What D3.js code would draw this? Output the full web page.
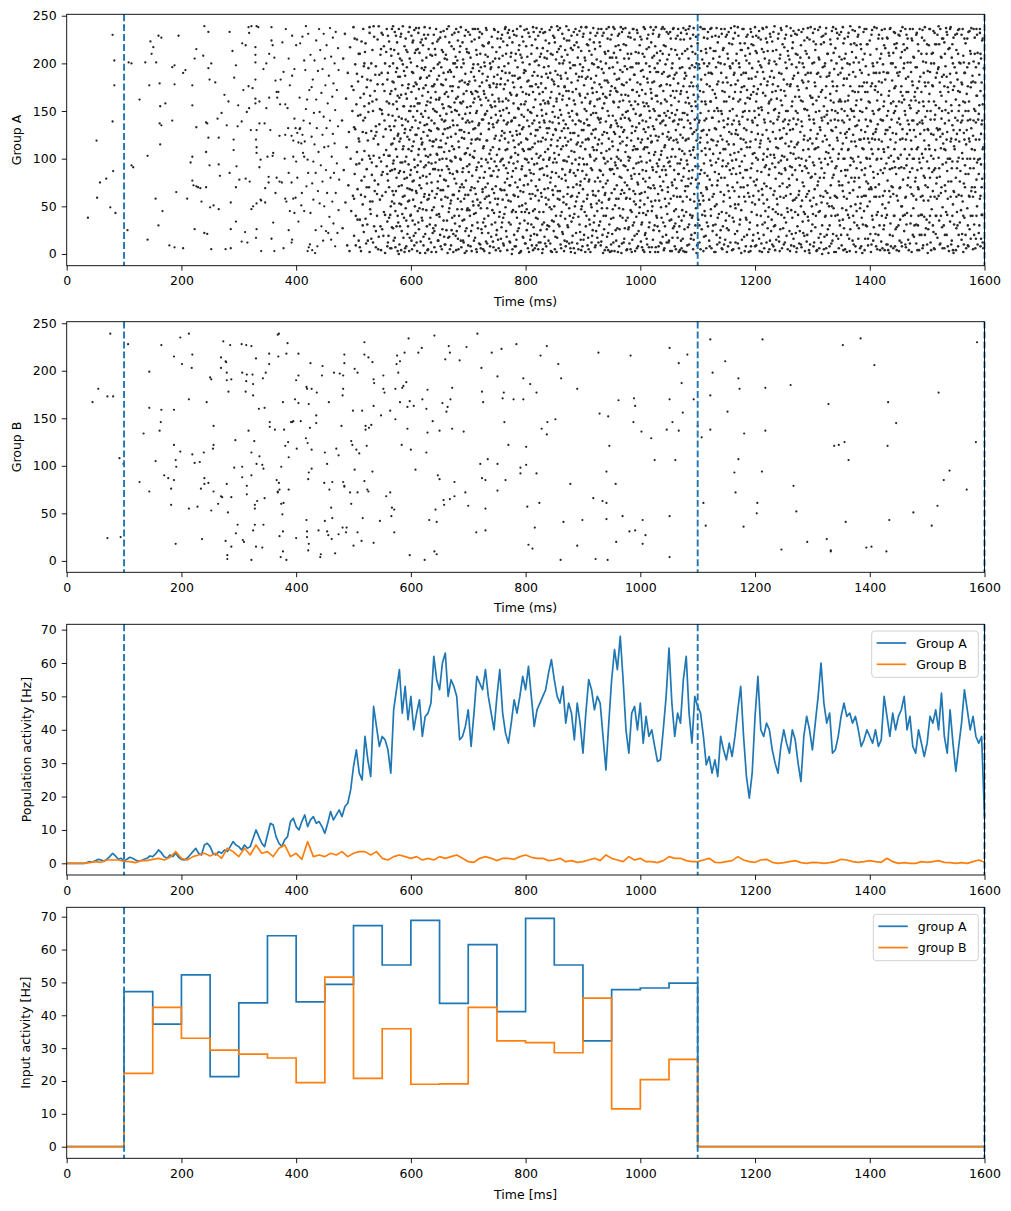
<!DOCTYPE html>
<html lang="en">
<head>
<meta charset="utf-8">
<title>Group A / Group B activity</title>
<script src="https://cdn.jsdelivr.net/npm/d3@7"></script>
<style>
  body { margin: 0; background: #fff; }
  text { font-family: "DejaVu Sans", sans-serif; }
</style>
</head>
<body>
<script>
// ---- data ----
// spike rasters, flat lists of [time (ms), neuron index] pairs
var spikesA_early = [37,38, 52,119, 53,59, 58,75, 69,79, 76,49, 80,230, 83,203, 83,177, 80,139, 81,87, 85,43, 100,239, 106,25, 108,201, 113,200, 113,93, 116,91, 127,162, 137,201, 141,103, 141,15, 144,177, 146,223, 148,210, 151,217, 155,58, 156,201, 160,229, 160,30, 162,179, 163,155, 165,227, 162,137, 165,135, 163,115, 167,45, 172,158, 179,9, 184,140, 184,196, 188,198, 188,7, 188,178, 191,65, 195,229, 203,6, 203,190, 207,193, 210,58, 216,96, 219,177, 219,156, 219,102, 219,77, 221,72, 223,26, 223,205, 226,215, 226,133, 226,71, 229,70, 233,69, 235,55, 238,208, 240,239, 240,22, 245,21, 243,138, 243,107, 243,70, 245,137, 247,233, 247,195, 247,122, 249,93, 249,183, 250,49, 252,5, 252,200, 256,51, 259,180, 263,142, 265,122, 265,94, 265,47, 267,82, 270,148, 275,167, 277,5, 279,135, 282,160, 284,233, 284,85, 286,54, 286,26, 286,6, 289,213, 291,120, 291,109, 292,185, 295,198, 295,70, 295,34, 296,92, 298,134, 299,156, 301,78, 305,139, 305,13, 306,221, 308,172, 311,23, 312,79, 312,219, 314,149, 315,12, 317,238, 317,176, 318,232, 318,153, 319,76, 321,130, 322,239, 322,47, 324,174, 325,50, 329,217, 329,209, 329,201, 329,183, 329,163, 329,158, 330,120, 331,130, 331,112, 331,106, 331,53, 331,26, 330,17, 331,239, 334,238, 336,160, 336,137, 336,91, 338,99, 338,57, 339,56, 339,3, 343,194, 345,137, 346,69, 346,54, 348,200, 348,153, 350,102, 352,81, 352,75, 353,210, 353,164, 355,130, 357,16, 357,238, 357,224, 359,219, 359,103, 360,106, 360,33, 362,3, 362,206, 364,182, 364,64, 366,170, 366,80, 367,164, 369,170, 371,124, 371,76, 372,157, 373,183, 375,75, 376,222, 378,6, 378,191, 380,100, 381,157, 381,125, 381,58, 382,236, 383,55, 385,153, 386,132, 387,205, 387,85, 387,25, 389,177, 389,45, 392,124, 392,75, 392,12, 393,187, 393,229, 393,15, 395,119, 395,102, 397,142, 395,58, 397,194, 397,43, 399,132, 399,59, 400,219, 400,97, 402,127, 402,80, 404,117, 404,34, 406,131, 406,164, 407,221, 407,132, 409,116, 409,51, 410,64, 411,125, 411,228, 412,106, 413,140, 414,102, 414,45, 414,203, 415,118, 416,193, 417,152, 417,239, 418,71, 419,162, 420,99, 420,3, 421,231, 421,85, 422,7, 423,172, 424,137, 424,10, 425,43, 425,209, 427,123, 427,175, 428,74, 428,4, 429,183, 430,97, 430,57, 431,148, 432,203, 432,115, 433,1, 434,85, 434,25, 435,224, 435,162, 436,132, 437,8, 438,192, 438,66, 439,107, 440,236, 441,149, 441,53, 442,214, 443,93, 444,29, 444,169, 446,125, 446,194, 446,76, 447,14, 448,144, 448,231, 449,50, 449,112, 450,205, 451,177, 452,24, 452,88, 453,132, 453,219, 454,64, 455,158, 456,22, 456,113, 457,187, 458,39, 459,237, 459,140, 460,80, 461,207, 461,15, 462,102, 463,165, 463,55, 464,126, 464,227, 465,32, 465,179, 466,85, 467,116, 467,200, 468,8, 468,151, 469,64, 469,233, 471,95, 471,172, 472,22, 473,216, 473,134, 474,46, 474,193, 475,78];

var spikesA_mid = [
480,140, 481,27, 482,205, 483,88, 485,231, 486,54, 487,163, 488,112, 489,9,
490,190, 491,72, 492,128, 493,3, 494,217, 495,100, 496,45, 497,176, 498,150, 499,61,
500,238, 501,19, 501,133, 502,84, 503,199, 504,40, 505,157, 506,107, 506,225, 507,68, 508,181, 509,14, 509,121,
510,95, 511,210, 511,36, 512,146, 513,3, 514,77, 515,186, 516,128, 516,52, 517,236, 518,168, 518,23, 519,108, 519,200,
520,60, 520,143, 521,221, 522,11, 523,89, 523,175, 524,31, 525,119, 526,195, 527,70, 527,158, 528,2, 528,232, 529,100, 529,47,
530,182, 531,129, 531,16, 532,83, 533,214, 533,55, 534,150, 535,239, 535,103, 536,29, 537,171, 537,66, 538,124, 539,197, 539,7,
540,92, 540,162, 541,40, 542,225, 543,115, 543,73, 544,18, 545,188, 545,136, 546,57, 547,209, 548,4, 548,97, 549,151, 549,232,
550,26, 551,178, 551,86, 552,123, 553,218, 553,44, 554,140, 555,1, 555,200, 556,65, 557,109, 558,160, 558,236, 559,34, 559,84,
560,190, 560,12, 561,146, 562,70, 562,223, 563,103, 564,41, 564,168, 565,130, 566,6, 566,208, 567,88, 567,55, 568,181, 568,116, 569,27, 569,239, 569,157,
570,98, 570,62, 571,214, 571,134, 572,17, 573,173, 573,45, 574,229, 574,110, 575,80, 576,195, 576,152, 577,3, 577,124, 578,33, 578,186, 579,71, 579,236, 579,144,
580,10, 580,164, 581,87, 581,205, 582,121, 583,52, 583,231, 584,142, 584,24, 585,177, 585,96, 586,60, 586,199, 587,113, 588,38, 588,155, 589,218, 589,2, 589,79,
590,131, 590,187, 591,48, 591,226, 592,8, 592,102, 593,163, 594,69, 594,212, 595,139, 595,29, 596,94, 596,178, 597,120, 597,56, 598,238, 598,17, 599,150, 599,83,
600,201, 600,41, 601,108, 601,170, 602,5, 602,133, 603,222, 603,76, 604,190, 604,57, 605,118, 605,19, 606,155, 606,235, 607,91, 607,31, 608,180, 608,140, 609,66, 609,214,
610,125, 610,12, 611,86, 611,197, 612,45, 612,158, 613,232, 613,104, 614,26, 614,173, 615,72, 615,211, 616,138, 616,1, 617,97, 617,185, 618,54, 618,147, 619,225, 619,115,
620,35, 620,166, 621,82, 621,219, 622,128, 622,9, 623,193, 623,60, 624,110, 624,238, 625,150, 625,21, 626,177, 626,93, 627,46, 627,206, 628,136, 628,74, 629,4, 629,160,
630,102, 630,230, 631,58, 631,143, 632,16, 632,187, 633,119, 633,84, 634,209, 634,38, 635,164, 635,129, 636,2, 636,95, 637,176, 637,66, 638,221, 638,113, 639,27, 639,152,
640,195, 640,49, 641,137, 641,7, 642,89, 642,215, 643,170, 643,30, 644,120, 644,236, 645,63, 645,149, 646,104, 646,183, 647,14, 647,76, 648,225, 648,131, 649,42, 649,162,
650,99, 650,201, 651,20, 651,145, 652,67, 652,233, 653,178, 653,112, 654,5, 654,88, 655,157, 655,50, 656,212, 656,126, 657,35, 657,190, 658,78, 658,139, 659,10, 659,168,
660,228, 660,60, 661,116, 661,183, 662,25, 662,147, 663,92, 663,204, 664,1, 664,132, 665,71, 665,165, 666,44, 666,239, 667,108, 667,18, 668,193, 668,85, 669,154, 669,53,
670,123, 670,9, 671,218, 671,97, 672,38, 672,171, 673,140, 673,62, 674,200, 674,21, 675,110, 675,186, 676,79, 676,232, 677,151, 677,32, 678,101, 678,207, 679,4, 679,163,
680,87, 680,196, 681,47, 681,135, 682,224, 682,16, 683,118, 683,175, 684,66, 684,146, 685,29, 685,212, 686,100, 686,159, 687,55, 687,238, 688,130, 688,7, 689,182, 689,73,
690,142, 690,35, 691,204, 691,90, 692,12, 692,168, 693,121, 693,58, 694,229, 694,105, 695,24, 695,189, 696,138, 696,77, 697,215, 697,3, 698,154, 698,46, 699,111, 699,178,
700,62, 700,233, 701,127, 701,19, 702,181, 702,94, 703,40, 703,148, 704,206, 704,8, 705,116, 705,170, 706,70, 706,223, 707,139, 707,30, 708,102, 708,195, 709,51, 709,159,
710,14, 710,186, 711,108, 711,69, 712,236, 712,132, 713,43, 713,171, 714,88, 714,214, 715,2, 715,150, 716,121, 716,57, 717,199, 717,27, 718,96, 718,165, 719,227, 719,137,
720,80, 720,176, 721,10, 721,210, 722,126, 722,48, 723,156, 723,100, 724,231, 724,22, 725,189, 725,65, 726,141, 726,5, 727,113, 727,218, 728,37, 728,168, 729,86, 729,197,
730,147, 730,29, 731,237, 731,99, 732,60, 732,182, 733,119, 733,11, 734,207, 734,74, 735,161, 735,40, 736,131, 736,222, 737,90, 737,1, 738,175, 738,54, 739,109, 739,194,
740,18, 740,143, 741,228, 741,82, 742,167, 742,46, 743,112, 743,202, 744,7, 744,133, 745,64, 745,186, 746,97, 746,235, 747,33, 747,155, 748,124, 748,71, 749,212, 749,20,
750,178, 750,104, 751,52, 751,226, 752,140, 752,15, 753,88, 753,196, 754,160, 754,39, 755,119, 755,217, 756,68, 756,3, 757,145, 757,184, 758,28, 758,99, 759,230, 759,129,
760,57, 760,208, 761,11, 761,151, 762,93, 762,173, 763,127, 763,42, 764,236, 764,75, 765,190, 765,109, 766,24, 766,163, 767,136, 767,62, 768,219, 768,4, 769,85, 769,182,
770,117, 770,200, 771,33, 771,148, 772,72, 772,227, 773,169, 773,12, 774,101, 774,55, 775,211, 775,139, 776,0, 776,81, 777,187, 777,124, 778,46, 778,234, 779,158, 779,95,
780,20, 780,175, 781,112, 781,61, 782,203, 782,143, 783,8, 783,90, 784,229, 784,166, 785,38, 785,125, 786,196, 786,70, 787,153, 787,104, 788,27, 788,214, 789,135, 789,50,
790,185, 790,78, 791,239, 791,2, 792,117, 792,157, 793,44, 793,206, 794,92, 794,131, 795,18, 795,170, 796,223, 796,65, 797,144, 797,108, 798,35, 798,193, 799,82, 799,11,
800,160, 800,53, 801,218, 801,121, 802,25, 802,99, 803,181, 803,140, 804,6, 804,73, 805,232, 805,110, 806,43, 806,167, 807,199, 807,88, 808,15, 808,149, 809,126, 809,58,
810,210, 810,31, 811,100, 811,176, 812,63, 812,137, 813,238, 813,4, 814,154, 814,84, 815,21, 815,191, 816,116, 816,47, 817,225, 817,162, 818,71, 818,130, 819,9, 819,203,
820,95, 820,145, 821,37, 821,187, 822,118, 822,229, 823,56, 823,12, 824,168, 824,78, 825,207, 825,133, 826,25, 826,103, 827,179, 827,64, 828,236, 828,151, 829,1, 829,90,
830,122, 830,216, 831,44, 831,161, 832,83, 832,196, 833,18, 833,138, 834,107, 834,233, 835,59, 835,174, 836,8, 836,147, 837,92, 837,205, 838,30, 838,127, 839,185, 839,69,
840,14, 840,158, 841,221, 841,99, 842,49, 842,139, 843,190, 843,75, 844,3, 844,114, 845,238, 845,170, 846,35, 846,86, 847,149, 847,209, 848,62, 848,125, 849,24, 849,181,
850,106, 850,227, 851,5, 851,144, 852,71, 852,192, 853,130, 853,40, 854,163, 854,96, 855,212, 855,17, 856,119, 856,58, 857,176, 857,235, 858,81, 858,137, 859,29, 859,200,
860,151, 860,66, 861,10, 861,218, 862,110, 862,184, 863,44, 863,129, 864,231, 864,89, 865,21, 865,166, 866,140, 866,54, 867,203, 867,3, 868,98, 868,175, 869,122, 869,37,
870,190, 870,77, 871,239, 871,114, 872,13, 872,156, 873,63, 873,209, 874,132, 874,28, 875,102, 875,171, 876,48, 876,224, 877,144, 877,86, 878,6, 878,195, 879,120, 879,60,
880,34, 880,180, 881,95, 881,150, 882,214, 882,19, 883,127, 883,70, 884,233, 884,161, 885,42, 885,107, 886,198, 886,1, 887,136, 887,82, 888,173, 888,55, 889,222, 889,115,
890,11, 890,146, 891,88, 891,206, 892,39, 892,124, 893,186, 893,64, 894,234, 894,101, 895,23, 895,166, 896,139, 896,76, 897,213, 897,4, 898,159, 898,50, 899,117, 899,192,
900,68, 900,228, 901,130, 901,15, 902,177, 902,94, 903,44, 903,152, 904,203, 904,110, 905,29, 905,184, 906,83, 906,238, 907,141, 907,58, 908,9, 908,168, 909,121, 909,219,
910,76, 910,193, 911,36, 911,135, 912,225, 912,104, 913,2, 913,160, 914,90, 914,52, 915,209, 915,126, 916,19, 916,174, 917,112, 917,66, 918,237, 918,148, 919,33, 919,199,
920,98, 920,155, 921,7, 921,215, 922,131, 922,61, 923,187, 923,24, 924,109, 924,170, 925,45, 925,232, 926,143, 926,80, 927,12, 927,196, 928,120, 928,56, 929,163, 929,222,
930,34, 930,138, 931,202, 931,87, 932,13, 932,175, 933,116, 933,48, 934,229, 934,153, 935,70, 935,1, 936,190, 936,101, 937,26, 937,128, 938,212, 938,62, 939,165, 939,95,
940,139, 940,40, 941,236, 941,108, 942,18, 942,182, 943,77, 943,150, 944,4, 944,213, 945,121, 945,57, 946,195, 946,31, 947,89, 947,167, 948,225, 948,133, 949,10, 949,100,
950,176, 950,64, 951,21, 951,206, 952,145, 952,113, 953,38, 953,238, 954,84, 954,159, 955,189, 955,3, 956,126, 956,51, 957,218, 957,93, 958,14, 958,171, 959,137, 959,72,
960,201, 960,27, 961,109, 961,229, 962,58, 962,154, 963,8, 963,184, 964,123, 964,81, 965,214, 965,40, 966,142, 966,98, 967,1, 967,167, 968,233, 968,67, 969,118, 969,191,
970,47, 970,161, 971,93, 971,220, 972,16, 972,130, 973,197, 973,75, 974,107, 974,237, 975,35, 975,149, 976,180, 976,59, 977,5, 977,122, 978,210, 978,88, 979,166, 979,26,
980,142, 980,205, 981,68, 981,11, 982,183, 982,101, 983,227, 983,46, 984,156, 984,119, 985,2, 985,79, 986,196, 986,134, 987,30, 987,172, 988,90, 988,236, 989,55, 989,113,
990,19, 990,188, 991,129, 991,63, 992,212, 992,147, 993,39, 993,95, 994,170, 994,6, 995,232, 995,110, 996,73, 996,157, 997,24, 997,200, 998,137, 998,84, 999,219, 999,49,
1000,102, 1000,178, 1001,13, 1001,146, 1002,225, 1002,64, 1003,120, 1003,33, 1004,193, 1004,88, 1005,159, 1005,4, 1006,238, 1006,131, 1007,52, 1007,207, 1008,112, 1008,20, 1009,168, 1009,76,
1010,139, 1010,41, 1011,215, 1011,96, 1012,10, 1012,184, 1013,121, 1013,59, 1014,230, 1014,155, 1015,28, 1015,106, 1016,197, 1016,80, 1017,2, 1017,143, 1018,173, 1018,69, 1019,222, 1019,117,
1020,45, 1020,163, 1021,91, 1021,206, 1022,15, 1022,134, 1023,235, 1023,72, 1024,181, 1024,104, 1025,30, 1025,150, 1026,218, 1026,56, 1027,124, 1027,7, 1028,191, 1028,86, 1029,166, 1029,38,
1030,119, 1030,200, 1031,63, 1031,2, 1032,145, 1032,228, 1033,99, 1033,24, 1034,176, 1034,81, 1035,213, 1035,137, 1036,49, 1036,158, 1037,11, 1037,108, 1038,189, 1038,67, 1039,238, 1039,126,
1040,33, 1040,171, 1041,92, 1041,219, 1042,148, 1042,6, 1043,114, 1043,58, 1044,199, 1044,135, 1045,20, 1045,83, 1046,233, 1046,160, 1047,42, 1047,101, 1048,186, 1048,70, 1049,12, 1049,128,
1050,209, 1050,53, 1051,143, 1051,97, 1052,3, 1052,177, 1053,122, 1053,226, 1054,36, 1054,156, 1055,75, 1055,195, 1056,110, 1056,17, 1057,236, 1057,139, 1058,61, 1058,184, 1059,88, 1059,29,
1060,164, 1060,8, 1061,102, 1061,214, 1062,47, 1062,130, 1063,190, 1063,69, 1064,23, 1064,151, 1065,229, 1065,117, 1066,84, 1066,179, 1067,39, 1067,2, 1068,141, 1068,205, 1069,95, 1069,60,
1070,225, 1070,125, 1071,14, 1071,171, 1072,77, 1072,35, 1073,196, 1073,108, 1074,148, 1074,55, 1075,237, 1075,3, 1076,133, 1076,90, 1077,184, 1077,26, 1078,66, 1078,213, 1079,119, 1079,159,
1080,44, 1080,187, 1081,98, 1081,231, 1082,9, 1082,146, 1083,164, 1083,71, 1084,205, 1084,121, 1085,31, 1085,87, 1086,176, 1086,239, 1087,57, 1087,137, 1088,16, 1088,104, 1089,218, 1089,155,
1090,80, 1090,198, 1091,126, 1091,40, 1092,230, 1092,5, 1093,167, 1093,112, 1094,63, 1094,186, 1095,141, 1095,22, 1096,92, 1096,210, 1097,48, 1097,155, 1098,1, 1098,130, 1099,176, 1099,70];

var spikesA_mid2 = [
500,172, 501,58, 502,226, 503,131, 504,9, 505,94, 506,189, 507,36, 508,145, 509,210,
510,118, 511,7, 512,164, 513,62, 514,223, 515,99, 516,30, 517,140, 518,197, 519,81, 519,155,
520,212, 521,37, 522,127, 523,70, 524,183, 525,14, 526,149, 527,103, 528,238, 529,55, 529,166,
530,42, 531,200, 532,96, 533,160, 534,12, 535,121, 536,228, 537,77, 538,188, 539,134, 539,24,
540,128, 541,63, 542,178, 543,5, 544,239, 545,101, 546,152, 547,29, 548,215, 549,83, 549,190,
550,147, 550,61, 551,230, 552,19, 553,104, 554,171, 555,41, 556,131, 557,212, 558,92, 559,8, 559,183,
560,77, 560,229, 561,19, 561,103, 562,158, 562,38, 563,197, 563,134, 564,87, 564,6, 565,215, 565,50, 566,171, 566,115, 567,236, 567,28, 568,145, 568,66, 569,95, 569,200,
570,14, 570,180, 571,53, 571,121, 572,233, 572,89, 573,140, 573,7, 574,191, 574,66, 575,160, 575,29, 576,102, 576,222, 577,40, 577,166, 578,126, 578,210, 579,85, 579,0,
580,53, 580,118, 581,186, 581,29, 582,228, 582,96, 583,167, 583,4, 584,72, 584,203, 585,135, 585,42, 586,239, 586,110, 587,17, 587,155, 588,86, 588,192, 589,127, 589,61,
590,97, 590,6, 591,168, 591,141, 592,35, 592,214, 593,80, 593,196, 594,123, 594,21, 595,174, 595,55, 596,233, 596,110, 597,3, 597,150, 598,68, 598,205, 599,130, 599,40,
600,88, 600,155, 601,14, 601,229, 602,67, 602,191, 603,113, 603,35, 604,144, 604,224, 605,77, 605,176, 606,9, 606,99, 607,211, 607,50, 608,125, 608,22, 609,163, 609,237,
610,64, 610,178, 611,150, 611,3, 612,215, 612,93, 613,33, 613,132, 614,237, 614,110, 615,48, 615,158, 616,184, 616,80, 617,13, 617,222, 618,121, 618,69, 619,195, 619,38,
620,117, 620,203, 621,47, 621,144, 622,18, 622,174, 623,91, 623,230, 624,63, 624,135, 625,196, 625,1, 626,103, 626,226, 627,156, 627,81, 628,29, 628,185, 629,124, 629,57,
630,170, 630,5, 631,96, 631,215, 632,130, 632,62, 633,237, 633,31, 634,159, 634,104, 635,192, 635,12, 636,75, 636,140, 637,46, 637,208, 638,118, 638,22, 639,176, 639,89,
640,118, 640,230, 641,24, 641,178, 642,59, 642,150, 643,209, 643,96, 644,2, 644,162, 645,105, 645,41, 646,223, 646,132, 647,69, 647,199, 648,14, 648,88, 649,187, 649,112,
650,39, 650,164, 651,227, 651,82, 652,8, 652,119, 653,196, 653,57, 654,141, 654,214, 655,26, 655,100, 656,177, 656,67, 657,234, 657,153, 658,18, 658,107, 659,205, 659,131,
660,10, 660,140, 661,77, 661,209, 662,170, 662,100, 663,35, 663,236, 664,122, 664,59, 665,191, 665,17, 666,155, 666,89, 667,222, 667,48, 668,133, 668,5, 669,176, 669,98,
670,191, 670,56, 671,149, 671,25, 672,230, 672,113, 673,84, 673,176, 674,2, 674,135, 675,62, 675,215, 676,159, 676,40, 677,102, 677,200, 678,19, 678,126, 679,236, 679,74,
680,150, 680,24, 681,203, 681,86, 682,58, 682,165, 683,5, 683,233, 684,112, 684,40, 685,181, 685,130, 686,70, 686,218, 687,14, 687,99, 688,196, 688,158, 689,47, 689,122,
690,86, 690,222, 691,14, 691,160, 692,70, 692,200, 693,36, 693,128, 694,180, 694,1, 695,147, 695,62, 696,235, 696,106, 697,27, 697,171, 698,92, 698,212, 699,48, 699,140,
700,178, 700,9, 701,86, 701,211, 702,46, 702,138, 703,230, 703,104, 704,155, 704,67, 705,24, 705,191, 706,120, 706,3, 707,168, 707,82, 708,236, 708,55, 709,131, 709,199,
710,101, 710,42, 711,163, 711,225, 712,17, 712,182, 713,120, 713,63, 714,148, 714,5, 715,209, 715,91, 716,33, 716,170, 717,76, 717,236, 718,135, 718,51, 719,192, 719,11,
720,233, 720,120, 721,54, 721,162, 722,6, 722,196, 723,92, 723,26, 724,141, 724,180, 725,68, 725,219, 726,111, 726,33, 727,171, 727,80, 728,201, 728,3, 729,146, 729,58,
730,209, 730,70, 731,13, 731,164, 732,119, 732,235, 733,48, 733,150, 734,96, 734,186, 735,22, 735,221, 736,61, 736,137, 737,177, 737,105, 738,8, 738,200, 739,82, 739,156,
740,100, 740,196, 741,31, 741,154, 742,217, 742,68, 743,136, 743,13, 744,179, 744,87, 745,236, 745,43, 746,121, 746,160, 747,58, 747,205, 748,4, 748,146, 749,92, 749,175,
750,25, 750,138, 751,188, 751,81, 752,233, 752,58, 753,163, 753,6, 754,110, 754,205, 755,44, 755,150, 756,97, 756,178, 757,16, 757,226, 758,124, 758,67, 759,192, 759,33,
760,160, 760,100, 761,223, 761,38, 762,140, 762,9, 763,197, 763,67, 764,121, 764,178, 765,49, 765,238, 766,90, 766,210, 767,18, 767,153, 768,110, 768,79, 769,232, 769,138,
770,56, 770,161, 771,235, 771,96, 772,13, 772,190, 773,128, 773,72, 774,207, 774,31, 775,167, 775,102, 776,44, 776,140, 777,222, 777,5, 778,87, 778,180, 779,119, 779,62,
780,143, 780,230, 781,8, 781,187, 782,75, 782,106, 783,210, 783,44, 784,129, 784,15, 785,167, 785,236, 786,97, 786,24, 787,184, 787,60, 788,152, 788,115, 789,219, 789,1,
790,126, 790,32, 791,209, 791,66, 792,175, 792,3, 793,146, 793,89, 794,228, 794,51, 795,110, 795,201, 796,17, 796,133, 797,190, 797,72, 798,157, 798,235, 799,44, 799,100,
800,192, 800,11, 801,82, 801,168, 802,236, 802,47, 803,120, 803,207, 804,32, 804,151, 805,96, 805,182, 806,2, 806,134, 807,63, 807,228, 808,110, 808,176, 809,19, 809,85,
810,77, 810,148, 811,219, 811,9, 812,187, 812,112, 813,45, 813,170, 814,233, 814,28, 815,94, 815,140, 816,6, 816,202, 817,124, 817,61, 818,178, 818,38, 819,237, 819,105,
820,20, 820,216, 821,130, 821,67, 822,175, 822,5, 823,101, 823,198, 824,44, 824,138, 825,233, 825,89, 826,157, 826,12, 827,118, 827,210, 828,60, 828,186, 829,31, 829,145,
830,5, 830,170, 831,99, 831,232, 832,140, 832,33, 833,206, 833,68, 834,158, 834,11, 835,120, 835,224, 836,52, 836,189, 837,26, 837,132, 838,213, 838,82, 839,110, 839,160,
840,197, 840,57, 841,132, 841,29, 842,235, 842,101, 843,11, 843,164, 844,80, 844,210, 845,47, 845,120, 846,183, 846,2, 847,138, 847,67, 848,229, 848,96, 849,155, 849,34,
850,50, 850,178, 851,100, 851,222, 852,18, 852,131, 853,204, 853,85, 854,2, 854,160, 855,113, 855,239, 856,66, 856,188, 857,31, 857,143, 858,215, 858,104, 859,57, 859,168,
860,122, 860,237, 861,40, 861,187, 862,6, 862,146, 863,207, 863,79, 864,162, 864,23, 865,113, 865,200, 866,60, 866,98, 867,226, 867,132, 868,14, 868,176, 869,83, 869,214,
870,8, 870,136, 871,171, 871,52, 872,224, 872,97, 873,30, 873,184, 874,118, 874,70, 875,235, 875,148, 876,11, 876,163, 877,201, 877,40, 878,127, 878,88, 879,216, 879,2,
880,108, 880,229, 881,12, 881,61, 882,170, 882,140, 883,38, 883,198, 884,85, 884,6, 885,219, 885,127, 886,50, 886,157, 887,236, 887,99, 888,22, 888,189, 889,73, 889,147,
890,230, 890,60, 891,117, 891,182, 892,5, 892,217, 893,140, 893,94, 894,31, 894,168, 895,72, 895,199, 896,15, 896,113, 897,238, 897,47, 898,130, 898,186, 899,87, 899,8,
900,196, 900,100, 901,55, 901,231, 902,137, 902,20, 903,206, 903,79, 904,164, 904,2, 905,120, 905,238, 906,40, 906,150, 907,220, 907,94, 908,62, 908,186, 909,17, 909,135,
910,120, 910,5, 911,213, 911,78, 912,158, 912,31, 913,232, 913,102, 914,184, 914,146, 915,49, 915,12, 916,200, 916,88, 917,25, 917,169, 918,130, 918,62, 919,222, 919,109,
920,40, 920,180, 921,122, 921,76, 922,229, 922,9, 923,148, 923,100, 924,204, 924,53, 925,162, 925,17, 926,115, 926,196, 927,66, 927,236, 928,141, 928,30, 929,88, 929,178,
930,218, 930,76, 931,142, 931,9, 932,106, 932,236, 933,54, 933,194, 934,20, 934,125, 935,168, 935,83, 936,232, 936,40, 937,158, 937,100, 938,4, 938,182, 939,64, 939,210,
940,74, 940,200, 941,7, 941,164, 942,127, 942,48, 943,226, 943,97, 944,180, 944,22, 945,145, 945,238, 946,58, 946,110, 947,2, 947,206, 948,88, 948,171, 949,37, 949,135,
950,3, 950,230, 951,118, 951,89, 952,196, 952,47, 953,160, 953,12, 954,211, 954,128, 955,68, 955,236, 956,174, 956,96, 957,25, 957,140, 958,206, 958,58, 959,102, 959,183,
960,90, 960,170, 961,2, 961,134, 962,219, 962,100, 963,48, 963,231, 964,160, 964,26, 965,116, 965,193, 966,63, 966,238, 967,133, 967,80, 968,11, 968,178, 969,146, 969,38,
970,128, 970,236, 971,12, 971,177, 972,64, 972,205, 973,143, 973,27, 974,167, 974,92, 975,219, 975,58, 976,114, 976,4, 977,194, 977,72, 978,150, 978,38, 979,228, 979,102,
980,28, 980,98, 981,160, 981,232, 982,58, 982,140, 983,5, 983,196, 984,82, 984,210, 985,127, 985,44, 986,172, 986,15, 987,236, 987,109, 988,66, 988,152, 989,188, 989,33,
990,225, 990,84, 991,3, 991,160, 992,110, 992,52, 993,200, 993,133, 994,21, 994,235, 995,75, 995,180, 996,121, 996,8, 997,211, 997,96, 998,43, 998,166, 999,145, 999,63,
1000,56, 1000,228, 1001,117, 1001,192, 1002,31, 1002,97, 1003,172, 1003,7, 1004,140, 1004,210, 1005,79, 1005,43, 1006,186, 1006,110, 1007,2, 1007,155, 1008,236, 1008,65, 1009,128, 1009,22,
1010,200, 1010,87, 1011,16, 1011,158, 1012,226, 1012,112, 1013,45, 1013,180, 1014,70, 1014,133, 1015,7, 1015,217, 1016,150, 1016,33, 1017,98, 1017,191, 1018,124, 1018,238, 1019,55, 1019,169,
1020,118, 1020,7, 1021,180, 1021,50, 1022,231, 1022,88, 1023,152, 1023,25, 1024,208, 1024,131, 1025,69, 1025,195, 1026,2, 1026,107, 1027,166, 1027,238, 1028,40, 1028,141, 1029,95, 1029,211,
1030,29, 1030,160, 1031,92, 1031,191, 1032,8, 1032,123, 1033,230, 1033,56, 1034,145, 1034,203, 1035,71, 1035,12, 1036,177, 1036,104, 1037,236, 1037,38, 1038,139, 1038,88, 1039,210, 1039,18,
1040,140, 1040,76, 1041,4, 1041,191, 1042,112, 1042,236, 1043,29, 1043,162, 1044,88, 1044,218, 1045,145, 1045,50, 1046,12, 1046,178, 1047,123, 1047,204, 1048,65, 1048,150, 1049,231, 1049,96,
1050,14, 1050,120, 1051,187, 1051,35, 1052,92, 1052,233, 1053,166, 1053,58, 1054,215, 1054,102, 1055,3, 1055,148, 1056,72, 1056,200, 1057,27, 1057,171, 1058,119, 1058,237, 1059,45, 1059,140,
1060,188, 1060,78, 1061,32, 1061,146, 1062,226, 1062,5, 1063,120, 1063,171, 1064,60, 1064,209, 1065,17, 1065,95, 1066,136, 1066,236, 1067,84, 1067,160, 1068,29, 1068,110, 1069,195, 1069,4,
1070,60, 1070,168, 1071,232, 1071,99, 1072,6, 1072,141, 1073,46, 1073,210, 1074,122, 1074,16, 1075,176, 1075,81, 1076,225, 1076,40, 1077,148, 1077,105, 1078,2, 1078,190, 1079,71, 1079,235,
1080,120, 1080,2, 1081,170, 1081,60, 1082,215, 1082,94, 1083,28, 1083,140, 1084,236, 1084,79, 1085,158, 1085,10, 1086,108, 1086,195, 1087,41, 1087,226, 1088,132, 1088,74, 1089,180, 1089,20,
1090,150, 1090,38, 1091,212, 1091,88, 1092,109, 1092,176, 1093,15, 1093,237, 1094,128, 1094,55, 1095,196, 1095,101, 1096,30, 1096,160, 1097,228, 1097,78, 1098,119, 1098,200, 1099,9, 1099,143];

var spikesA_late = [
1100,104, 1100,221, 1101,36, 1101,165, 1102,138, 1102,74, 1103,12, 1103,195, 1104,117, 1104,52, 1105,238, 1105,148, 1106,88, 1106,183, 1107,26, 1107,129, 1108,204, 1109,61,
1110,170, 1110,3, 1111,95, 1111,227, 1112,140, 1112,45, 1113,188, 1113,111, 1114,19, 1114,157, 1115,70, 1115,211, 1116,125, 1116,33, 1117,197, 1117,82, 1118,233, 1119,150,
1120,57, 1120,130, 1121,8, 1121,176, 1122,216, 1122,98, 1123,40, 1123,160, 1124,120, 1124,237, 1125,72, 1125,189, 1126,24, 1126,143, 1127,105, 1127,205, 1128,63, 1129,2,
1130,168, 1130,86, 1131,229, 1131,31, 1132,131, 1132,196, 1133,52, 1133,114, 1134,10, 1134,153, 1135,222, 1135,77, 1136,181, 1136,100, 1137,42, 1137,139, 1138,207, 1139,17,
1140,124, 1140,65, 1141,190, 1141,236, 1142,6, 1142,147, 1143,92, 1143,171, 1144,29, 1144,214, 1145,110, 1145,55, 1146,160, 1146,133, 1147,80, 1147,199, 1148,15, 1149,228,
1150,43, 1150,185, 1151,118, 1151,2, 1152,210, 1152,72, 1153,142, 1153,95, 1154,233, 1154,25, 1155,165, 1155,128, 1156,59, 1156,197, 1157,104, 1157,12, 1158,177, 1159,84,
1160,220, 1160,136, 1161,38, 1161,152, 1162,90, 1162,5, 1163,188, 1163,115, 1164,66, 1164,239, 1165,21, 1165,170, 1166,126, 1166,48, 1167,203, 1167,99, 1168,145, 1169,75,
1170,11, 1170,182, 1171,107, 1171,229, 1172,60, 1172,139, 1173,31, 1173,196, 1174,162, 1174,85, 1175,214, 1175,121, 1176,1, 1176,46, 1177,175, 1177,97, 1178,236, 1179,149,
1180,70, 1180,190, 1181,132, 1181,18, 1182,221, 1182,103, 1183,55, 1183,158, 1184,8, 1184,117, 1185,203, 1185,36, 1186,172, 1186,88, 1187,230, 1187,141, 1188,64, 1189,184,
1190,26, 1190,150, 1191,112, 1191,210, 1192,80, 1192,3, 1193,167, 1193,233, 1194,44, 1194,128, 1195,95, 1195,195, 1196,14, 1196,138, 1197,61, 1197,219, 1198,176, 1199,106,
1200,238, 1200,52, 1201,120, 1201,186, 1202,9, 1202,160, 1203,78, 1203,211, 1204,135, 1204,30, 1205,99, 1205,173, 1206,227, 1206,66, 1207,146, 1207,16, 1208,112, 1209,198,
1210,40, 1210,178, 1211,154, 1211,86, 1212,2, 1212,215, 1213,125, 1213,62, 1214,236, 1214,191, 1215,20, 1215,105, 1216,141, 1216,74, 1217,205, 1217,33, 1218,166, 1219,93,
1220,130, 1220,12, 1221,222, 1221,57, 1222,181, 1222,110, 1223,148, 1223,39, 1224,83, 1224,200, 1225,5, 1225,160, 1226,118, 1226,231, 1227,69, 1227,139, 1228,24, 1229,192,
1230,95, 1230,170, 1231,47, 1231,213, 1232,137, 1232,8, 1233,104, 1233,185, 1234,66, 1234,239, 1235,30, 1235,152, 1236,121, 1236,79, 1237,199, 1237,15, 1238,163, 1239,52,
1240,226, 1240,111, 1241,18, 1241,144, 1242,85, 1242,190, 1243,3, 1243,130, 1244,60, 1244,209, 1245,172, 1245,98, 1246,41, 1246,235, 1247,156, 1247,122, 1248,74, 1249,27,
1250,183, 1250,59, 1251,102, 1251,217, 1252,12, 1252,141, 1253,88, 1253,166, 1254,230, 1254,33, 1255,126, 1255,195, 1256,48, 1256,70, 1257,150, 1257,5, 1258,208, 1259,113,
1260,140, 1260,24, 1261,176, 1261,92, 1262,237, 1262,63, 1263,118, 1263,9, 1264,199, 1264,155, 1265,38, 1265,83, 1266,222, 1266,131, 1267,16, 1267,105, 1268,187, 1269,57,
1270,165, 1270,44, 1271,210, 1271,100, 1272,2, 1272,136, 1273,78, 1273,230, 1274,148, 1274,29, 1275,190, 1275,117, 1276,62, 1276,172, 1277,11, 1277,201, 1278,93, 1279,128,
1280,50, 1280,219, 1281,139, 1281,7, 1282,182, 1282,87, 1283,34, 1283,160, 1284,109, 1284,236, 1285,71, 1285,196, 1286,19, 1286,124, 1287,152, 1287,42, 1288,213, 1289,98,
1290,174, 1290,13, 1291,63, 1291,227, 1292,119, 1292,190, 1293,85, 1293,35, 1294,145, 1294,206, 1295,1, 1295,102, 1296,166, 1296,56, 1297,238, 1297,130, 1298,24, 1299,81,
1300,200, 1300,116, 1301,42, 1301,157, 1302,8, 1302,223, 1303,93, 1303,137, 1304,68, 1304,180, 1305,28, 1305,214, 1306,111, 1306,149, 1307,52, 1307,3, 1308,189, 1309,126,
1310,76, 1310,235, 1311,17, 1311,165, 1312,100, 1312,204, 1313,133, 1313,45, 1314,186, 1314,61, 1315,220, 1315,12, 1316,143, 1316,90, 1317,30, 1317,172, 1318,118, 1319,229,
1320,155, 1320,5, 1321,85, 1321,197, 1322,124, 1322,39, 1323,231, 1323,66, 1324,176, 1324,107, 1325,20, 1325,146, 1326,210, 1326,53, 1327,94, 1327,137, 1328,1, 1329,187,
1330,114, 1330,30, 1331,168, 1331,225, 1332,72, 1332,140, 1333,11, 1333,203, 1334,97, 1334,50, 1335,181, 1335,129, 1336,238, 1336,21, 1337,159, 1337,83, 1338,194, 1339,61,
1340,40, 1340,216, 1341,133, 1341,2, 1342,171, 1342,92, 1343,59, 1343,232, 1344,119, 1344,148, 1345,16, 1345,188, 1346,76, 1346,105, 1347,207, 1347,35, 1348,162, 1349,127,
1350,233, 1350,87, 1351,9, 1351,152, 1352,195, 1352,48, 1353,116, 1353,66, 1354,221, 1354,177, 1355,27, 1355,138, 1356,100, 1356,205, 1357,5, 1357,160, 1358,82, 1359,122,
1360,58, 1360,184, 1361,145, 1361,20, 1362,228, 1362,109, 1363,75, 1363,166, 1364,38, 1364,131, 1365,199, 1365,3, 1366,93, 1366,239, 1367,152, 1367,50, 1368,118, 1369,212,
1370,14, 1370,171, 1371,125, 1371,67, 1372,201, 1372,97, 1373,33, 1373,144, 1374,234, 1374,80, 1375,186, 1375,8, 1376,113, 1376,156, 1377,45, 1377,219, 1378,135, 1379,60,
1380,102, 1380,230, 1381,27, 1381,140, 1382,176, 1382,70, 1383,6, 1383,193, 1384,120, 1384,53, 1385,162, 1385,215, 1386,88, 1386,38, 1387,149, 1387,1, 1388,204, 1389,110,
1390,180, 1390,45, 1391,83, 1391,236, 1392,128, 1392,16, 1393,197, 1393,61, 1394,153, 1394,101, 1395,220, 1395,29, 1396,170, 1396,134, 1397,74, 1397,9, 1398,188, 1399,117,
1400,55, 1400,159, 1401,209, 1401,92, 1402,2, 1402,139, 1403,230, 1403,68, 1404,121, 1404,179, 1405,36, 1405,105, 1406,197, 1406,14, 1407,147, 1407,80, 1408,238, 1409,172,
1410,128, 1410,21, 1411,190, 1411,60, 1412,99, 1412,215, 1413,161, 1413,5, 1414,44, 1414,136, 1415,226, 1415,110, 1416,73, 1416,181, 1417,30, 1417,152, 1418,205, 1419,88,
1420,13, 1420,167, 1421,118, 1421,235, 1422,52, 1422,140, 1423,199, 1423,85, 1424,26, 1424,155, 1425,107, 1425,219, 1426,66, 1426,4, 1427,183, 1427,126, 1428,38, 1429,95,
1430,227, 1430,145, 1431,77, 1431,10, 1432,190, 1432,112, 1433,54, 1433,166, 1434,1, 1434,208, 1435,133, 1435,89, 1436,237, 1436,32, 1437,158, 1437,103, 1438,71, 1439,182,
1440,19, 1440,127, 1441,211, 1441,63, 1442,148, 1442,97, 1443,40, 1443,174, 1444,232, 1444,8, 1445,117, 1445,196, 1446,84, 1446,155, 1447,28, 1447,221, 1448,138, 1449,56,
1450,100, 1450,187, 1451,3, 1451,142, 1452,69, 1452,229, 1453,120, 1453,36, 1454,170, 1454,206, 1455,12, 1455,91, 1456,159, 1456,50, 1457,238, 1457,131, 1458,78, 1459,195,
1460,162, 1460,24, 1461,110, 1461,214, 1462,59, 1462,146, 1463,184, 1463,7, 1464,93, 1464,230, 1465,126, 1465,43, 1466,201, 1466,72, 1467,15, 1467,170, 1468,136, 1469,104,
1470,236, 1470,86, 1471,32, 1471,153, 1472,191, 1472,119, 1473,2, 1473,63, 1474,224, 1474,140, 1475,100, 1475,177, 1476,48, 1476,207, 1477,18, 1477,130, 1478,165, 1479,76,
1480,123, 1480,196, 1481,57, 1481,11, 1482,148, 1482,232, 1483,88, 1483,174, 1484,30, 1484,112, 1485,213, 1485,68, 1486,159, 1486,4, 1487,138, 1487,96, 1488,186, 1489,41,
1490,20, 1490,170, 1491,105, 1491,227, 1492,61, 1492,137, 1493,202, 1493,9, 1494,82, 1494,155, 1495,39, 1495,119, 1496,238, 1496,180, 1497,72, 1497,144, 1498,27, 1499,210,
1500,150, 1500,97, 1501,1, 1501,192, 1502,130, 1502,56, 1503,219, 1503,114, 1504,33, 1504,168, 1505,80, 1505,236, 1506,12, 1506,141, 1507,200, 1507,103, 1508,47, 1509,177,
1510,66, 1510,211, 1511,125, 1511,23, 1512,160, 1512,88, 1513,232, 1513,5, 1514,146, 1514,109, 1515,185, 1515,40, 1516,74, 1516,220, 1517,132, 1517,58, 1518,17, 1519,194,
1520,101, 1520,239, 1521,35, 1521,153, 1522,180, 1522,81, 1523,11, 1523,123, 1524,207, 1524,64, 1525,166, 1525,142, 1526,28, 1526,226, 1527,94, 1527,49, 1528,116, 1529,188,
1530,222, 1530,6, 1531,137, 1531,72, 1532,197, 1532,109, 1533,44, 1533,160, 1534,233, 1534,20, 1535,128, 1535,87, 1536,175, 1536,58, 1537,215, 1537,148, 1538,3, 1539,100,
1540,34, 1540,189, 1541,118, 1541,238, 1542,76, 1542,156, 1543,14, 1543,206, 1544,97, 1544,135, 1545,52, 1545,172, 1546,227, 1546,1, 1547,113, 1547,65, 1548,196, 1549,143,
1550,80, 1550,162, 1551,27, 1551,214, 1552,126, 1552,44, 1553,183, 1553,97, 1554,8, 1554,235, 1555,150, 1555,62, 1556,201, 1556,118, 1557,33, 1557,170, 1558,87, 1559,138,
1560,230, 1560,15, 1561,106, 1561,178, 1562,55, 1562,145, 1563,208, 1563,2, 1564,127, 1564,74, 1565,190, 1565,38, 1566,159, 1566,93, 1567,221, 1567,20, 1568,115, 1569,168,
1570,48, 1570,196, 1571,140, 1571,9, 1572,84, 1572,233, 1573,160, 1573,61, 1574,118, 1574,26, 1575,213, 1575,100, 1576,175, 1576,40, 1577,132, 1577,237, 1578,70, 1579,187,
1580,124, 1580,5, 1581,202, 1581,90, 1582,31, 1582,152, 1583,227, 1583,109, 1584,65, 1584,180, 1585,16, 1585,138, 1586,236, 1586,78, 1587,166, 1587,50, 1588,211, 1589,99,
1590,147, 1590,22, 1591,188, 1591,120, 1592,58, 1592,232, 1593,8, 1593,171, 1594,94, 1594,205, 1595,136, 1595,41, 1596,224, 1596,79, 1597,157, 1597,12, 1598,112, 1599,195];

var spikesA_late2 = [
1100,10, 1100,176, 1101,92, 1101,230, 1102,56, 1102,199, 1103,140, 1103,30, 1104,171, 1104,84, 1105,5, 1105,122, 1106,213, 1106,64, 1107,160, 1107,108, 1108,41, 1109,236,
1110,130, 1110,56, 1111,200, 1111,18, 1112,85, 1112,236, 1113,160, 1113,40, 1114,104, 1114,215, 1115,6, 1115,142, 1116,178, 1116,68, 1117,226, 1117,117, 1118,29, 1119,190,
1120,200, 1120,14, 1121,110, 1121,78, 1122,160, 1122,236, 1123,47, 1123,190, 1124,6, 1124,93, 1125,143, 1125,228, 1126,60, 1126,172, 1127,30, 1127,119, 1128,213, 1129,150,
1130,50, 1130,132, 1131,2, 1131,213, 1132,96, 1132,164, 1133,237, 1133,20, 1134,178, 1134,72, 1135,118, 1135,38, 1136,201, 1136,150, 1137,84, 1137,228, 1138,12, 1139,106,
1140,25, 1140,200, 1141,150, 1141,80, 1142,231, 1142,44, 1143,120, 1143,5, 1144,180, 1144,98, 1145,216, 1145,140, 1146,62, 1146,10, 1147,170, 1147,236, 1148,110, 1149,35,
1150,160, 1150,92, 1151,230, 1151,27, 1152,136, 1152,180, 1153,8, 1153,205, 1154,66, 1154,115, 1155,40, 1155,221, 1156,150, 1156,88, 1157,195, 1157,50, 1158,237, 1159,126,
1160,98, 1160,4, 1161,200, 1161,70, 1162,163, 1162,226, 1163,34, 1163,140, 1164,106, 1164,190, 1165,52, 1165,232, 1166,178, 1166,12, 1167,130, 1167,84, 1168,210, 1169,24,
1170,238, 1170,125, 1171,52, 1171,160, 1172,6, 1172,200, 1173,92, 1173,136, 1174,221, 1174,36, 1175,170, 1175,70, 1176,110, 1176,188, 1177,15, 1177,214, 1178,144, 1179,80,
1180,120, 1180,236, 1181,60, 1181,176, 1182,3, 1182,150, 1183,208, 1183,88, 1184,38, 1184,190, 1185,130, 1185,228, 1186,20, 1186,112, 1187,164, 1187,72, 1188,216, 1189,2,
1190,200, 1190,60, 1191,33, 1191,163, 1192,236, 1192,118, 1193,90, 1193,8, 1194,184, 1194,220, 1195,54, 1195,140, 1196,105, 1196,228, 1197,20, 1197,170, 1198,76, 1199,150,
1200,8, 1200,143, 1201,213, 1201,72, 1202,101, 1202,229, 1203,41, 1203,168, 1204,191, 1204,87, 1205,22, 1205,126, 1206,153, 1206,202, 1207,57, 1207,234, 1208,3, 1209,116,
1210,119, 1210,225, 1211,11, 1211,196, 1212,68, 1212,151, 1213,237, 1213,31, 1214,99, 1214,169, 1215,53, 1215,212, 1216,184, 1216,6, 1217,138, 1217,91, 1218,45, 1219,226,
1220,71, 1220,238, 1221,177, 1221,102, 1222,27, 1222,213, 1223,121, 1223,2, 1224,158, 1224,49, 1225,203, 1225,89, 1226,14, 1226,186, 1227,228, 1227,104, 1228,162, 1229,36,
1230,10, 1230,223, 1231,128, 1231,178, 1232,62, 1232,233, 1233,29, 1233,151, 1234,202, 1234,101, 1235,91, 1235,4, 1236,171, 1236,44, 1237,112, 1237,214, 1238,58, 1239,141,
1240,42, 1240,176, 1241,231, 1241,96, 1242,13, 1242,148, 1243,205, 1243,71, 1244,121, 1244,26, 1245,237, 1245,161, 1246,84, 1246,189, 1247,6, 1247,103, 1248,220, 1249,139,
1250,132, 1250,10, 1251,171, 1251,38, 1252,226, 1252,90, 1253,201, 1253,116, 1254,61, 1254,150, 1255,19, 1255,239, 1256,178, 1256,99, 1257,44, 1257,213, 1258,136, 1259,79,
1260,204, 1260,72, 1261,3, 1261,130, 1262,178, 1262,106, 1263,229, 1263,46, 1264,21, 1264,91, 1265,160, 1265,216, 1266,56, 1266,184, 1267,142, 1267,234, 1268,8, 1269,112,
1270,231, 1270,88, 1271,22, 1271,150, 1272,196, 1272,59, 1273,115, 1273,6, 1274,176, 1274,209, 1275,41, 1275,141, 1276,235, 1276,101, 1277,66, 1277,165, 1278,24, 1279,206,
1280,161, 1280,10, 1281,100, 1281,233, 1282,56, 1282,134, 1283,200, 1283,75, 1284,22, 1284,180, 1285,120, 1285,44, 1286,224, 1286,152, 1287,3, 1287,92, 1288,188, 1289,60,
1290,90, 1290,210, 1291,151, 1291,20, 1292,39, 1292,237, 1293,110, 1293,181, 1294,4, 1294,66, 1295,225, 1295,141, 1296,121, 1296,10, 1297,190, 1297,80, 1298,164, 1299,50,
1300,31, 1300,164, 1301,232, 1301,96, 1302,141, 1302,59, 1303,201, 1303,12, 1304,110, 1304,236, 1305,176, 1305,84, 1306,40, 1306,220, 1307,121, 1307,161, 1308,4, 1309,72,
1310,190, 1310,112, 1311,44, 1311,206, 1312,6, 1312,150, 1313,238, 1313,80, 1314,130, 1314,21, 1315,170, 1315,96, 1316,54, 1316,228, 1317,140, 1317,0, 1318,196, 1319,60,
1320,80, 1320,222, 1321,144, 1321,18, 1322,200, 1322,100, 1323,40, 1323,164, 1324,237, 1324,6, 1325,120, 1325,186, 1326,64, 1326,150, 1327,26, 1327,210, 1328,106, 1329,50,
1330,190, 1330,8, 1331,101, 1331,59, 1332,220, 1332,161, 1333,130, 1333,40, 1334,234, 1334,151, 1335,14, 1335,80, 1336,176, 1336,110, 1337,211, 1337,48, 1338,2, 1339,141,
1340,150, 1340,90, 1341,236, 1341,60, 1342,19, 1342,200, 1343,122, 1343,176, 1344,41, 1344,226, 1345,100, 1345,140, 1346,6, 1346,160, 1347,72, 1347,230, 1348,30, 1349,190,
1350,20, 1350,160, 1351,110, 1351,204, 1352,72, 1352,140, 1353,238, 1353,36, 1354,100, 1354,4, 1355,184, 1355,60, 1356,150, 1356,226, 1357,126, 1357,88, 1358,210, 1359,46,
1360,128, 1360,2, 1361,200, 1361,88, 1362,41, 1362,161, 1363,232, 1363,110, 1364,16, 1364,188, 1365,64, 1365,141, 1366,176, 1366,26, 1367,101, 1367,220, 1368,80, 1369,150,
1370,100, 1370,235, 1371,40, 1371,191, 1372,150, 1372,10, 1373,221, 1373,76, 1374,118, 1374,170, 1375,52, 1375,134, 1376,2, 1376,206, 1377,90, 1377,161, 1378,30, 1379,228,
1380,170, 1380,16, 1381,80, 1381,201, 1382,120, 1382,238, 1383,48, 1383,150, 1384,220, 1384,96, 1385,8, 1385,130, 1386,190, 1386,60, 1387,111, 1387,176, 1388,31, 1389,233,
1390,61, 1390,121, 1391,210, 1391,4, 1392,90, 1392,170, 1393,141, 1393,30, 1394,236, 1394,76, 1395,180, 1395,100, 1396,50, 1396,220, 1397,121, 1397,16, 1398,160, 1399,68,
1400,224, 1400,100, 1401,21, 1401,140, 1402,176, 1402,70, 1403,110, 1403,10, 1404,235, 1404,40, 1405,150, 1405,200, 1406,86, 1406,126, 1407,28, 1407,190, 1408,60, 1409,120,
1410,176, 1410,70, 1411,8, 1411,131, 1412,237, 1412,41, 1413,100, 1413,201, 1414,170, 1414,84, 1415,20, 1415,151, 1416,120, 1416,230, 1417,60, 1417,190, 1418,4, 1419,141,
1420,100, 1420,210, 1421,40, 1421,180, 1422,226, 1422,6, 1423,140, 1423,61, 1424,191, 1424,110, 1425,30, 1425,160, 1426,236, 1426,90, 1427,48, 1427,216, 1428,130, 1429,10,
1430,41, 1430,190, 1431,130, 1431,226, 1432,4, 1432,150, 1433,101, 1433,211, 1434,66, 1434,171, 1435,20, 1435,236, 1436,120, 1436,60, 1437,200, 1437,8, 1438,141, 1439,90,
1440,200, 1440,70, 1441,160, 1441,6, 1442,233, 1442,40, 1443,110, 1443,220, 1444,91, 1444,150, 1445,26, 1445,176, 1446,126, 1446,216, 1447,61, 1447,4, 1448,190, 1449,101,
1450,230, 1450,30, 1451,160, 1451,90, 1452,14, 1452,191, 1453,70, 1453,136, 1454,104, 1454,234, 1455,176, 1455,50, 1456,212, 1456,8, 1457,121, 1457,166, 1458,40, 1459,220,
1460,90, 1460,200, 1461,41, 1461,150, 1462,236, 1462,10, 1463,120, 1463,60, 1464,170, 1464,31, 1465,216, 1465,100, 1466,140, 1466,226, 1467,80, 1467,186, 1468,4, 1469,156,
1470,11, 1470,130, 1471,201, 1471,70, 1472,40, 1472,161, 1473,226, 1473,110, 1474,90, 1474,181, 1475,20, 1475,236, 1476,140, 1476,61, 1477,206, 1477,100, 1478,30, 1479,170,
1480,161, 1480,80, 1481,230, 1481,31, 1482,110, 1482,196, 1483,4, 1483,136, 1484,70, 1484,220, 1485,150, 1485,40, 1486,181, 1486,100, 1487,236, 1487,20, 1488,126, 1489,60,
1490,90, 1490,210, 1491,140, 1491,41, 1492,235, 1492,6, 1493,160, 1493,101, 1494,190, 1494,56, 1495,224, 1495,130, 1496,20, 1496,80, 1497,176, 1497,110, 1498,201, 1499,36,
1500,10, 1500,220, 1501,131, 1501,70, 1502,180, 1502,26, 1503,90, 1503,160, 1504,236, 1504,110, 1505,40, 1505,191, 1506,60, 1506,150, 1507,4, 1507,126, 1508,210, 1509,86,
1510,176, 1510,30, 1511,234, 1511,100, 1512,6, 1512,200, 1513,141, 1513,60, 1514,90, 1514,220, 1515,21, 1515,156, 1516,120, 1516,40, 1517,190, 1517,80, 1518,230, 1519,130,
1520,61, 1520,196, 1521,90, 1521,220, 1522,131, 1522,10, 1523,236, 1523,170, 1524,40, 1524,111, 1525,206, 1525,70, 1526,150, 1526,186, 1527,6, 1527,126, 1528,226, 1529,30,
1530,176, 1530,110, 1531,20, 1531,210, 1532,66, 1532,151, 1533,237, 1533,96, 1534,120, 1534,186, 1535,41, 1535,230, 1536,100, 1536,8, 1537,170, 1537,76, 1538,140, 1539,216,
1540,236, 1540,100, 1541,60, 1541,180, 1542,10, 1542,121, 1543,150, 1543,90, 1544,220, 1544,40, 1545,200, 1545,4, 1546,130, 1546,66, 1547,176, 1547,31, 1548,110, 1549,230,
1550,120, 1550,4, 1551,190, 1551,60, 1552,231, 1552,90, 1553,140, 1553,30, 1554,171, 1554,210, 1555,20, 1555,101, 1556,156, 1556,236, 1557,76, 1557,130, 1558,200, 1559,46,
1560,61, 1560,180, 1561,140, 1561,21, 1562,236, 1562,100, 1563,40, 1563,160, 1564,201, 1564,10, 1565,120, 1565,226, 1566,70, 1566,190, 1567,150, 1567,84, 1568,6, 1569,130,
1570,100, 1570,226, 1571,30, 1571,176, 1572,150, 1572,8, 1573,200, 1573,121, 1574,60, 1574,234, 1575,90, 1575,141, 1576,16, 1576,210, 1577,180, 1577,66, 1578,110, 1579,40,
1580,181, 1580,60, 1581,236, 1581,140, 1582,100, 1582,20, 1583,210, 1583,70, 1584,150, 1584,6, 1585,120, 1585,196, 1586,40, 1586,166, 1587,230, 1587,96, 1588,10, 1589,141,
1590,84, 1590,200, 1591,30, 1591,156, 1592,236, 1592,100, 1593,61, 1593,210, 1594,126, 1594,16, 1595,180, 1595,70, 1596,140, 1596,41, 1597,226, 1597,110, 1598,6, 1599,166];

var spikesB = [45,167, 55,181, 71,173, 81,173, 76,239, 92,108, 99,102, 71,24, 94,25, 107,228, 134,134, 127,83, 144,199, 144,161, 144,73, 155,105, 162,137, 164,146, 165,159, 165,227, 170,90, 177,87, 182,76, 182,59, 187,159, 187,122, 187,85, 187,215, 190,106, 191,99, 190,18, 198,115, 198,235, 201,207, 213,239, 213,170, 213,55, 218,203, 219,217, 219,112, 223,103, 228,57, 232,104, 234,76, 236,23, 239,114, 240,87, 240,81, 244,167, 247,82, 250,193, 252,191, 252,53, 255,118, 256,122, 256,142, 256,73, 264,60, 269,214, 269,203, 269,68, 271,67, 273,231, 277,210, 278,209, 277,21, 279,198, 279,190, 279,81, 280,6, 280,2, 282,178, 281,51, 285,227, 287,191, 287,15, 287,67, 294,127, 292,98, 298,38, 295,29, 305,228, 306,198, 306,88, 306,99, 307,22, 309,20, 313,227, 313,189, 314,196, 312,178, 314,79, 314,70, 317,137, 322,226, 322,114, 322,90, 322,1, 324,196, 325,186, 325,174, 325,32, 327,126, 328,38, 328,59, 328,55, 330,15, 330,213, 331,102, 332,63, 335,160, 336,110, 341,101, 341,14, 343,97, 343,38, 342,192, 345,161, 345,66, 347,198, 353,218, 353,207, 354,146, 354,141, 363,138, 366,85, 368,73, 368,72, 368,238, 370,239, 369,215, 370,82, 371,75, 371,26, 373,4, 374,60, 374,99, 376,49, 377,10, 377,31, 377,167, 378,61, 379,138, 381,121, 383,1, 383,218, 385,229, 386,125, 387,109, 387,75, 391,146, 393,146, 395,147, 398,170, 400,190, 400,24, 401,118, 404,195, 404,166, 404,218, 408,147, 417,129, 418,183, 419,181, 420,124, 421,86, 422,93, 422,165, 418,43, 419,31, 419,25, 422,18, 421,11, 424,140, 425,208, 427,181, 427,117, 427,97, 435,145, 435,153, 436,177, 439,32, 442,4, 443,7, 446,205, 445,195, 449,82, 450,114, 450,42, 454,102, 454,31, 456,27, 457,167, 458,75, 461,56, 462,23, 463,45, 463,83, 466,198, 468,8, 470,118, 474,28, 474,111, 476,197,
484,217, 484,208, 482,195, 482,181, 481,174, 479,142, 482,83, 484,79, 484,78, 481,35, 488,35, 487,30, 494,72, 496,60, 496,126, 498,122, 499,158, 500,16, 502,202, 502,96, 505,117, 507,198, 507,72, 507,30, 510,113, 514,21, 515,158, 516,45, 519,230, 519,217, 519,84, 521,142, 521,138, 523,121, 524,75, 526,73, 526,214, 527,140, 531,143, 533,209, 533,94, 535,163, 535,19, 535,191, 536,187, 546,42, 548,153, 552,195, 552,181, 554,177, 557,68, 564,72, 564,158, 566,47, 567,56, 571,54, 571,30, 573,181, 573,149, 575,207, 576,216, 578,198, 581,210, 581,167, 584,122, 585,182, 587,184, 589,219, 592,188, 594,162, 594,139, 596,234, 598,168, 598,6, 600,117, 605,163, 608,96, 613,219, 619,224, 620,170, 624,1, 627,160, 627,114, 629,180, 629,135, 632,43, 638,147, 641,237, 641,10, 643,54, 645,41, 645,7, 647,90, 650,137, 650,86, 655,166, 657,64, 658,59, 660,212, 662,157, 664,162, 666,226, 668,219, 668,65, 669,170, 672,182, 672,139, 676,83, 676,68, 685,211, 692,136, 695,72, 697,225, 700,58, 714,30, 716,239, 721,102, 723,203, 724,178, 724,87, 726,167, 730,85, 730,55, 730,32, 734,107, 741,219, 751,194, 751,102, 751,74, 758,223, 760,171, 762,177, 763,146, 765,85, 770,122, 779,170, 784,228, 791,98, 791,92, 796,192, 796,170, 801,120, 801,101, 803,57, 805,17, 808,186, 812,13, 816,35, 819,92, 819,177, 824,61, 826,216, 828,139, 837,226, 837,133, 838,146, 852,149, 857,207, 861,1, 862,192, 866,41, 878,81, 890,181, 890,16, 899,43, 918,66, 922,2, 927,219, 929,155, 934,63, 941,61, 941,94, 941,44, 943,1, 944,152, 946,121, 957,81, 958,20, 962,169, 969,47, 981,31, 983,216, 988,146, 989,171, 991,163, 991,32, 1002,136, 1004,43, 1004,18, 1009,27, 1019,129, 1025,106, 1046,138, 1051,224, 1051,170, 1051,47, 1051,4,
1056,146, 1061,106, 1067,208, 1067,137, 1072,187, 1074,156, 1082,217, 1093,170, 1100,142, 1107,130, 1110,61, 1114,37, 1122,233, 1122,174, 1122,138, 1126,198, 1148,210, 1152,157, 1164,93, 1166,72, 1171,192, 1171,107, 1173,181, 1180,36, 1181,134, 1203,50, 1204,61, 1212,94, 1213,233, 1218,182, 1218,137, 1246,12, 1262,185, 1267,79, 1272,52, 1291,20, 1325,23, 1328,165, 1332,11, 1332,10, 1338,121, 1346,122, 1353,227, 1356,125, 1358,41, 1363,106, 1384,234, 1394,14, 1403,15, 1408,206, 1429,10, 1431,121, 1432,167, 1434,43, 1446,145, 1476,51, 1508,37, 1518,58, 1520,177, 1529,85, 1539,95, 1569,75, 1585,125, 1587,230];

// population activity [Hz]: group A sampled every 5 ms, group B every 10 ms
var popA = [0,0,0,0,0,0,0,0.2,0.5,0.4,0.8,1.2,1.0,0.6,1.2,2.0,3.0,2.2,1.2,1.5,
0.8,1.2,1.8,1.5,1.0,0.6,0.8,1.2,1.5,2.2,2.0,2.8,4.0,3.2,2.0,1.5,2.5,2.0,3.0,1.8,
1.2,1.0,1.5,2.5,3.5,4.5,3.0,2.5,5.5,6.0,5.0,3.0,2.5,3.5,3.0,4.0,3.5,5.0,6.5,5.5,
5.0,4.0,5.5,4.5,5.0,7.5,10.0,8.0,6.0,5.0,8.5,12.0,11.5,8.0,6.0,5.0,7.0,8.0,12.5,13.5,
11.0,10.0,12.5,14.5,11.0,13.0,14.0,12.0,12.5,11.0,9.0,12.0,15.5,13.0,14.5,16.0,14.0,17.0,18.0,22.0,
29.0,34.0,27.0,25.0,38.0,31.0,26.0,47.0,41.0,35.0,38.0,37.0,34.0,27.0,46.0,52.0,58.0,45.0,53.0,43.0,
50.0,40.0,45.0,49.0,38.0,44.0,45.0,48.0,62.0,55.0,52.0,60.0,63.0,50.0,55.0,53.0,50.0,37.0,38.0,41.0,
46.0,35.0,45.0,56.0,54.0,52.0,58.0,50.0,45.0,40.0,50.0,58.0,45.0,39.0,36.0,42.0,49.0,45.0,50.0,56.0,
52.0,59.0,50.0,41.0,46.0,48.0,50.0,52.0,57.0,61.0,55.0,50.0,48.0,53.0,42.0,48.0,45.0,37.0,48.0,42.0,
33.0,45.0,55.0,52.0,46.0,50.0,48.0,38.0,28.0,42.0,55.0,64.0,58.0,68.0,55.0,40.0,33.0,45.0,47.0,40.0,
48.0,36.0,44.0,38.0,40.0,35.0,30.5,31.0,40.0,50.0,64.5,48.0,38.0,45.0,42.0,55.0,62.0,45.0,36.0,50.0,
47.0,45.0,38.0,29.5,32.0,27.0,31.0,26.0,38.0,34.0,31.0,36.0,32.0,38.0,46.0,53.0,38.0,26.0,19.5,27.0,
44.0,56.0,40.0,38.0,42.0,40.0,34.0,30.0,27.0,35.0,40.0,36.0,33.0,40.0,37.0,30.0,24.5,38.0,44.0,40.0,
34.0,42.0,50.0,60.0,48.0,42.0,45.0,33.0,34.0,38.0,44.0,48.0,44.0,45.0,42.0,44.0,40.0,35.0,37.0,40.0,
38.0,36.0,40.0,35.0,37.0,50.0,44.0,38.0,45.0,40.0,44.0,46.0,50.0,40.0,44.0,35.0,33.0,40.0,36.0,32.0,
36.0,44.0,42.0,46.0,40.0,51.0,38.0,33.0,46.0,36.0,27.5,35.0,42.0,52.0,46.0,40.0,44.0,38.0,36.0,38.0,
14.0];
var popB = [0,0,0,0,0.2,0.5,0.3,1.0,1.0,1.0,
0.6,0.5,0.2,0.8,0.8,1.2,1.5,1.0,1.8,3.5,
1.5,1.0,2.0,2.5,3.0,2.2,3.0,1.5,4.5,3.5,
2.0,4.5,2.5,5.5,3.0,3.5,2.0,4.5,5.5,2.0,
3.0,1.2,6.5,2.0,2.5,2.0,3.0,2.5,3.5,2.0,
3.0,3.5,3.5,2.5,3.5,1.5,1.0,2.0,2.5,2.0,
1.5,2.0,1.0,1.5,1.0,2.0,1.5,2.0,2.5,1.5,
0.5,0.3,1.5,2.0,1.5,0.8,1.5,1.5,1.2,2.0,
2.5,1.8,1.5,1.5,0.8,1.0,1.5,0.5,0.8,0.3,
0.5,1.0,1.5,0.8,2.5,1.5,1.0,0.5,2.0,1.0,
1.5,0.5,0.5,0.2,0.8,2.0,1.5,1.5,0.8,0.5,
0.5,1.0,1.5,0.3,0.2,0.5,0.8,2.0,1.0,0.5,
0.3,1.0,1.2,0.3,0.0,0.2,0.5,0.8,0.2,0.0,
0.3,0.2,0.0,0.2,0.5,1.2,1.0,0.5,0.3,0.5,
0.8,0.5,0.3,1.5,0.5,0.0,0.2,0.0,0.0,0.5,
0.3,0.5,0.8,0.3,0.2,0.0,0.2,0.0,0.5,1.0,
0.3];

// input activity [Hz], one value per 50 ms bin starting at 0 ms
var inputBinStarts = d3.range(0, 1600, 50);
var inputA = [0,0,47.2,37.3,52.3,21.3,43.8,64.2,44.1,49.4,67.3,55.3,68.9,43.6,61.5,41.1,69.5,55.3,32.2,47.8,48.3,49.8,0,0,0,0,0,0,0,0,0,0];
var inputB = [0,0,22.3,42.4,33.0,29.4,28.2,27.0,19.5,51.6,20.8,35.9,19.0,19.1,42.4,32.2,31.7,28.6,45.2,11.5,20.4,26.6,0,0,0,0,0,0,0,0,0,0];

var markerTimes = [100, 1100, 1600];
var xTicks = [0, 200, 400, 600, 800, 1000, 1200, 1400, 1600];

// ---- drawing ----
var w = 1011, h = 1211;
var blue = "#1f77b4", orange = "#ff7f0e";
var fs = 12.5;

var svg = d3.select("body").append("svg")
    .attr("width", w).attr("height", h)
    .style("background", "#fff");

var xScale = d3.scaleLinear().domain([0, 1600]).range([66.7, 984.5]);

var panels = [
    {top: 14.3, bottom: 265.7, domain: [-12.3, 251.5], yTicks: [0, 50, 100, 150, 200, 250], ylabel: "Group A", ylx: 16, xlabel: "Time (ms)", xly: 301},
    {top: 321.7, bottom: 572.3, domain: [-12.0, 251.6], yTicks: [0, 50, 100, 150, 200, 250], ylabel: "Group B", ylx: 16, xlabel: "Time (ms)", xly: 607.7},
    {top: 624.3, bottom: 875, domain: [-3.5, 71.6], yTicks: [0, 10, 20, 30, 40, 50, 60, 70], ylabel: "Population activity [Hz]", ylx: 26, xlabel: null},
    {top: 907.3, bottom: 1158.3, domain: [-3.53, 72.86], yTicks: [0, 10, 20, 30, 40, 50, 60, 70], ylabel: "Input activity [Hz]", ylx: 25, xlabel: "Time [ms]", xly: 1194}
];

panels.forEach(function(p) {
    p.y = d3.scaleLinear().domain(p.domain).range([p.bottom, p.top]);
    p.g = svg.append("g");
});

function pairs(flat) {
    var out = [];
    for (var i = 0; i + 1 < flat.length; i += 2) out.push([flat[i], flat[i + 1]]);
    return out;
}

function drawRaster(p, data, r, fill) {
    p.g.append("g").selectAll("circle")
        .data(data)
        .enter()
        .append("circle")
        .attr("cx", function(d) { return xScale(d[0]); })
        .attr("cy", function(d) { return p.y(d[1]); })
        .attr("r", r)
        .attr("fill", fill);
}

drawRaster(panels[0], pairs(spikesA_early), 1.15, "#222");
drawRaster(panels[0], pairs(spikesA_mid).concat(pairs(spikesA_mid2), pairs(spikesA_late), pairs(spikesA_late2)), 1.3, "#2a2a2a");
drawRaster(panels[1], pairs(spikesB), 1.1, "#222");

// population activity
var p3 = panels[2];
var lineA = d3.line()
    .x(function(d, i) { return xScale(i * 5); })
    .y(function(d) { return p3.y(d); });
var lineB = d3.line()
    .x(function(d, i) { return xScale(i * 10); })
    .y(function(d) { return p3.y(d); });
p3.g.append("path").attr("d", lineA(popA))
    .attr("fill", "none").attr("stroke", blue).attr("stroke-width", 1.7).attr("stroke-linejoin", "round");
p3.g.append("path").attr("d", lineB(popB))
    .attr("fill", "none").attr("stroke", orange).attr("stroke-width", 1.7).attr("stroke-linejoin", "round");

// input activity (step)
var p4 = panels[3];
function stepData(vals) {
    var pts = inputBinStarts.map(function(t, i) { return [t, vals[i]]; });
    pts.push([1600, vals[vals.length - 1]]);
    return pts;
}
var stepLine = d3.line()
    .curve(d3.curveStepAfter)
    .x(function(d) { return xScale(d[0]); })
    .y(function(d) { return p4.y(d[1]); });
p4.g.append("path").attr("d", stepLine(stepData(inputA)))
    .attr("fill", "none").attr("stroke", blue).attr("stroke-width", 1.7);
p4.g.append("path").attr("d", stepLine(stepData(inputB)))
    .attr("fill", "none").attr("stroke", orange).attr("stroke-width", 1.7);

// dashed markers, frame, axes, labels
panels.forEach(function(p) {
    p.g.selectAll(".marker")
        .data(markerTimes)
        .enter()
        .append("line")
        .attr("x1", function(d) { return xScale(d); })
        .attr("x2", function(d) { return xScale(d); })
        .attr("y1", p.top)
        .attr("y2", p.bottom)
        .attr("stroke", blue)
        .attr("stroke-width", 1.9)
        .attr("stroke-dasharray", "6.9,3");

    p.g.append("rect")
        .attr("x", 66.7).attr("y", p.top)
        .attr("width", 984.5 - 66.7).attr("height", p.bottom - p.top)
        .attr("fill", "none").attr("stroke", "#000").attr("stroke-width", 0.9);

    var xa = p.g.append("g")
        .attr("transform", "translate(0," + p.bottom + ")")
        .call(d3.axisBottom(xScale).tickValues(xTicks).tickSizeOuter(0).tickSize(4.9).tickPadding(6).tickFormat(d3.format("d")));
    var ya = p.g.append("g")
        .attr("transform", "translate(66.7,0)")
        .call(d3.axisLeft(p.y).tickValues(p.yTicks).tickSizeOuter(0).tickSize(4.9).tickPadding(5.1).tickFormat(d3.format("d")));
    [xa, ya].forEach(function(a) {
        a.select(".domain").remove();
        a.selectAll(".tick line").attr("stroke", "#000").attr("stroke-width", 0.9);
        a.selectAll(".tick text").attr("font-size", fs).attr("font-family", "DejaVu Sans, sans-serif").attr("fill", "#000");
    });

    p.g.append("text")
        .attr("transform", "translate(" + p.ylx + "," + ((p.top + p.bottom) / 2) + ") rotate(-90)")
        .attr("text-anchor", "middle")
        .attr("dominant-baseline", "central")
        .attr("font-size", fs)
        .text(p.ylabel);

    if (p.xlabel) {
        p.g.append("text")
            .attr("x", (66.7 + 984.5) / 2)
            .attr("y", p.xly)
            .attr("text-anchor", "middle")
            .attr("dominant-baseline", "central")
            .attr("font-size", fs)
            .text(p.xlabel);
    }
});

// legends
function legend(p, x0, y0, bw, bh, labels) {
    var g = p.g.append("g");
    g.append("rect")
        .attr("x", x0).attr("y", y0).attr("width", bw).attr("height", bh)
        .attr("rx", 3).attr("ry", 3)
        .attr("fill", "#fff").attr("fill-opacity", 0.8)
        .attr("stroke", "#cccccc").attr("stroke-width", 0.9);
    var colors = [blue, orange];
    labels.forEach(function(lab, i) {
        var cy = y0 + 12 + i * 21.3;
        g.append("line")
            .attr("x1", x0 + 5).attr("x2", x0 + 34.5)
            .attr("y1", cy).attr("y2", cy)
            .attr("stroke", colors[i]).attr("stroke-width", 1.7);
        g.append("text")
            .attr("x", x0 + 44.5).attr("y", cy)
            .attr("dominant-baseline", "central")
            .attr("font-size", fs)
            .text(lab);
    });
}
legend(panels[2], 871.7, 631, 106.6, 46.3, ["Group A", "Group B"]);
legend(panels[3], 873.3, 914.3, 105, 46.4, ["group A", "group B"]);
</script>
</body>
</html>
